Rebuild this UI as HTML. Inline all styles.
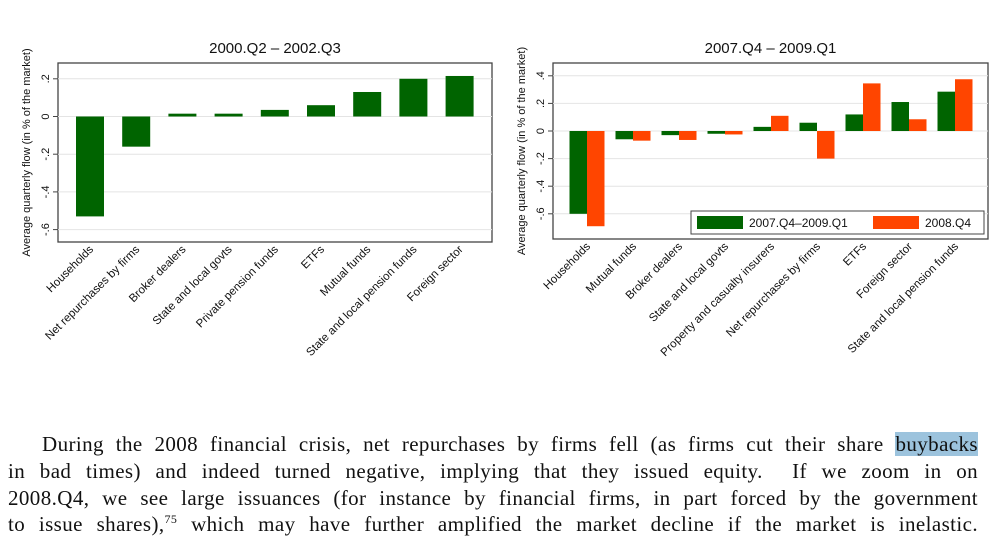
<!DOCTYPE html>
<html><head><meta charset="utf-8">
<style>
body{margin:0;background:#fff;width:1000px;height:544px;overflow:hidden;position:relative;font-family:"Liberation Sans",sans-serif}
#para{position:absolute;left:8px;top:431px;width:970px;font-family:"Liberation Serif",serif;font-size:21px;letter-spacing:0.4px;line-height:26.8px;color:#111}
#para div{text-align:justify;text-align-last:justify;height:26.8px;white-space:nowrap}
#para .hl{background:#9cc3dd}
</style></head><body>
<svg id="chart" width="1000" height="420" style="position:absolute;left:0;top:0" font-family="Liberation Sans, sans-serif"></svg>
<div id="para">
<div style="padding-left:34px;white-space:normal">During the 2008 financial crisis, net repurchases by firms fell (as firms cut their share <span class="hl">buybacks</span></div>
<div style="white-space:normal">in bad times) and indeed turned negative, implying that they issued equity. &nbsp;If we zoom in on</div>
<div style="white-space:normal">2008.Q4, we see large issuances (for instance by financial firms, in part forced by the government</div>
<div style="white-space:normal">to issue shares),<sup style="font-size:12px;line-height:0">75</sup> which may have further amplified the market decline if the market is inelastic.</div>
</div>
<script>
const catsL=["Households","Net repurchases by firms","Broker dealers","State and local govts","Private pension funds","ETFs","Mutual funds","State and local pension funds","Foreign sector"];
const valsL=[-0.53,-0.16,0.015,0.015,0.035,0.06,0.13,0.2,0.215];
const ticksL=[0.2,0,-0.2,-0.4,-0.6];
const tickLabelsL=[".2","0","-.2","-.4","-.6"];
const catsR=["Households","Mutual funds","Broker dealers","State and local govts","Property and casualty insurers","Net repurchases by firms","ETFs","Foreign sector","State and local pension funds"];
const valsR1=[-0.6,-0.06,-0.03,-0.02,0.03,0.06,0.12,0.21,0.285];
const valsR2=[-0.69,-0.07,-0.065,-0.025,0.11,-0.2,0.345,0.085,0.375];
const ticksR=[0.4,0.2,0,-0.2,-0.4,-0.6];
const tickLabelsR=[".4",".2","0","-.2","-.4","-.6"];
const seriesNames=["2007.Q4\u20132009.Q1","2008.Q4"];

const svg=document.getElementById('chart');
const NS="http://www.w3.org/2000/svg";
function mk(tag,attrs,parent,name,text){const e=document.createElementNS(NS,tag);for(const k in attrs)e.setAttribute(k,attrs[k]);


if(text!==undefined)e.textContent=text;(parent||svg).appendChild(e);return e;}

function panel(o){
  const g=mk('g',{},svg,o.name);
  const y=v=>o.y0-v*o.k;
  mk('text',{x:(o.x1+o.x2)/2,y:53,'text-anchor':'middle','font-size':15,fill:'#111'},g,'chart-title',o.title);
  mk('rect',{x:o.x1,y:o.top,width:o.x2-o.x1,height:o.bot-o.top,fill:'#fff',stroke:'#444','stroke-width':1.3},g,'plot-frame');
  o.ticks.forEach((t,i)=>{
    mk('line',{x1:o.x1,x2:o.x2,y1:y(t),y2:y(t),stroke:'#e4e4e4','stroke-width':1},g,'gridline');
    mk('line',{x1:o.x1-5,x2:o.x1,y1:y(t),y2:y(t),stroke:'#444'},g,'y-tick');
    mk('text',{x:0,y:0,transform:`translate(${o.x1-9},${y(t)}) rotate(-90)`,'text-anchor':'middle','font-size':11,fill:'#111'},g,'y-tick-label',o.tickLabels[i]);
  });
  mk('text',{x:0,y:0,transform:`translate(${o.x1-28},${(o.top+o.bot)/2}) rotate(-90)`,'text-anchor':'middle','font-size':11,fill:'#111'},g,'y-axis-title','Average quarterly flow (in % of the market)');
  o.cats.forEach((c,i)=>{
    const cx=o.x1+o.first+o.step*i;
    o.series.forEach((s,j)=>{
      const v=s.vals[i];const bx=o.series.length==1?cx-o.bw/2:cx-o.bw+j*o.bw;
      mk('rect',{x:bx,y:Math.min(y(0),y(v)),width:o.bw,height:Math.abs(y(v)-y(0)),fill:s.color},g,'bar-'+(j?'2008q4-':'')+c.toLowerCase().replace(/ /g,'-'));
    });
    mk('text',{x:0,y:0,transform:`translate(${cx+4},${o.bot+8}) rotate(-45)`,'text-anchor':'end','font-size':11.5,fill:'#111'},g,'x-tick-label',c);
  });
  return g;
}
panel({name:'left-chart',title:'2000.Q2 \u2013 2002.Q3',x1:58,x2:492,top:63,bot:242,y0:116.5,k:188.5,ticks:ticksL,tickLabels:tickLabelsL,cats:catsL,series:[{vals:valsL,color:'#006400'}],bw:28,first:32,step:46.2});
const gr=panel({name:'right-chart',title:'2007.Q4 \u2013 2009.Q1',x1:553,x2:988,top:63,bot:239,y0:131,k:138,ticks:ticksR,tickLabels:tickLabelsR,cats:catsR,series:[{vals:valsR1,color:'#006400'},{vals:valsR2,color:'#ff4500'}],bw:17.5,first:34,step:46});
const lg=mk('g',{},gr,'legend');
mk('rect',{x:691,y:211,width:293,height:23,fill:'#fff',stroke:'#444'},lg,'legend-box');
mk('rect',{x:697,y:216,width:46,height:13,fill:'#006400'},lg,'legend-swatch-green');
mk('text',{x:749,y:227,'font-size':12,fill:'#111'},lg,'legend-label-green',seriesNames[0]);
mk('rect',{x:873,y:216,width:46,height:13,fill:'#ff4500'},lg,'legend-swatch-orange');
mk('text',{x:925,y:227,'font-size':12,fill:'#111'},lg,'legend-label-orange',seriesNames[1]);
</script>
</body></html>
